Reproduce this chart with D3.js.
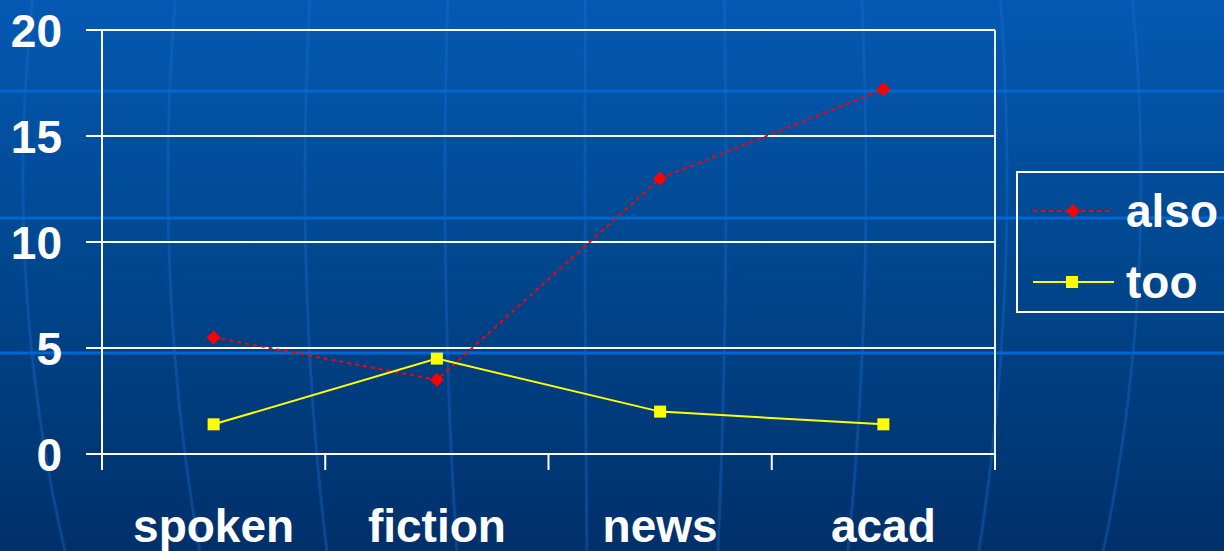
<!DOCTYPE html>
<html>
<head>
<meta charset="utf-8">
<script src="https://cdn.jsdelivr.net/npm/d3@7"></script>
<style>
  html, body { margin: 0; padding: 0; background: #00458a; }
  svg { display: block; }
  text { font-family: "Liberation Sans", Arial, sans-serif; font-weight: bold; fill: #ffffff; }
</style>
</head>
<body>
<svg id="chart" width="1224" height="551"></svg>
<script>
// Genre frequencies for "also" and "too"
const categories = ["spoken", "fiction", "news", "acad"];
const alsoValues = [5.5, 3.5, 13.0, 17.2];
const tooValues = [1.4, 4.5, 2.0, 1.4];
const yTicks = [0, 5, 10, 15, 20];
const seriesNames = ["also", "too"];

const W = 1224, H = 551;
const svg = d3.select("#chart");

// ---- backdrop: blue gradient with globe-style meridians and bands ----
const defs = svg.append("defs");
const grad = defs.append("linearGradient")
  .attr("id", "bg").attr("x1", 0).attr("y1", 0).attr("x2", 0).attr("y2", 1);
grad.append("stop").attr("offset", "0%").attr("stop-color", "#0559b3");
grad.append("stop").attr("offset", "50%").attr("stop-color", "#00468c");
grad.append("stop").attr("offset", "100%").attr("stop-color", "#00306a");
svg.append("rect").attr("width", W).attr("height", H).attr("fill", "url(#bg)");

const deco = svg.append("g");
const meridianOffsets = [-589, -444, -307, -167, -27, 114, 254, 395, 529];
const cx = 612, cy = 180, b = 1000;
const meridian = d3.line().curve(d3.curveBasis);
meridianOffsets.forEach(d => {
  const pts = d3.range(0, H + 11, 10).map(y => {
    const t = (y - cy) / b;
    return [cx + d * Math.sqrt(1 - t * t), y];
  });
  deco.append("path").attr("d", meridian(pts))
    .attr("fill", "none").attr("stroke", "#1a6fd6")
    .attr("stroke-opacity", 0.35).attr("stroke-width", 3);
});
[91, 218, 353].forEach(y => {
  deco.append("rect").attr("x", 0).attr("y", y - 1.5).attr("width", W).attr("height", 3)
    .attr("fill", "#0066d0");
});

// ---- scales ----
const plot = { left: 102, right: 995, top: 30, bottom: 454 };
const x = d3.scaleBand().domain(categories).range([plot.left, plot.right]).padding(0);
const y = d3.scaleLinear().domain([0, 20]).range([plot.bottom, plot.top]);
const xc = c => x(c) + x.bandwidth() / 2;

// ---- grid & frame ----
const g = svg.append("g");
yTicks.forEach(v => {
  g.append("line").attr("x1", plot.left - 16).attr("x2", plot.right)
    .attr("y1", y(v)).attr("y2", y(v))
    .attr("stroke", "#ffffff").attr("stroke-width", 2);
});
g.append("line").attr("x1", plot.left).attr("x2", plot.left)
  .attr("y1", plot.top).attr("y2", plot.bottom + 16)
  .attr("stroke", "#ffffff").attr("stroke-width", 2);
g.append("line").attr("x1", plot.right).attr("x2", plot.right)
  .attr("y1", plot.top).attr("y2", plot.bottom)
  .attr("stroke", "#e8eef8").attr("stroke-width", 2);
// category boundary ticks below the x axis
const boundaries = categories.map(c => x(c)).concat([plot.right]);
boundaries.forEach(bx => {
  g.append("line").attr("x1", bx).attr("x2", bx)
    .attr("y1", plot.bottom).attr("y2", plot.bottom + 16)
    .attr("stroke", "#ffffff").attr("stroke-width", 2);
});

// ---- axis labels ----
yTicks.forEach(v => {
  g.append("text").attr("x", 62).attr("y", y(v) + 16.5)
    .attr("text-anchor", "end").attr("font-size", 46).text(v);
});
categories.forEach(c => {
  g.append("text").attr("x", xc(c)).attr("y", 542)
    .attr("text-anchor", "middle").attr("font-size", 46).text(c);
});

// ---- series ----
const line = d3.line().x((d, i) => xc(categories[i])).y(d => y(d));
// square rotated 45 degrees: equal width and height
const diamond = "M0,-7L7,0L0,7L-7,0Z";

g.append("path").datum(alsoValues).attr("d", line)
  .attr("fill", "none").attr("stroke", "#ff0000").attr("stroke-width", 2)
  .attr("stroke-dasharray", "4,4");
g.append("path").datum(tooValues).attr("d", line)
  .attr("fill", "none").attr("stroke", "#ffff00").attr("stroke-width", 2);

g.selectAll(".also-pt").data(alsoValues).enter().append("path")
  .attr("transform", (d, i) => `translate(${xc(categories[i])},${y(d)})`)
  .attr("d", diamond).attr("fill", "#ff0000");
g.selectAll(".too-pt").data(tooValues).enter().append("rect")
  .attr("x", (d, i) => xc(categories[i]) - 6).attr("y", d => y(d) - 6)
  .attr("width", 12).attr("height", 12).attr("fill", "#ffff00");

// ---- legend ----
const lg = svg.append("g");
lg.append("rect").attr("x", 1017).attr("y", 172).attr("width", 240).attr("height", 140)
  .attr("fill", "none").attr("stroke", "#ffffff").attr("stroke-width", 2);
const rows = [211, 282];
lg.append("line").attr("x1", 1033).attr("x2", 1112).attr("y1", rows[0]).attr("y2", rows[0])
  .attr("stroke", "#ff0000").attr("stroke-width", 2).attr("stroke-dasharray", "4,4");
lg.append("path").attr("transform", `translate(1073,${rows[0]})`).attr("d", diamond).attr("fill", "#ff0000");
lg.append("line").attr("x1", 1033).attr("x2", 1114).attr("y1", rows[1]).attr("y2", rows[1])
  .attr("stroke", "#ffff00").attr("stroke-width", 2);
lg.append("rect").attr("x", 1066).attr("y", rows[1] - 6).attr("width", 12).attr("height", 12).attr("fill", "#ffff00");
seriesNames.forEach((s, i) => {
  lg.append("text").attr("x", 1126).attr("y", rows[i] + 16).attr("font-size", 46).text(s);
});
</script>
</body>
</html>
